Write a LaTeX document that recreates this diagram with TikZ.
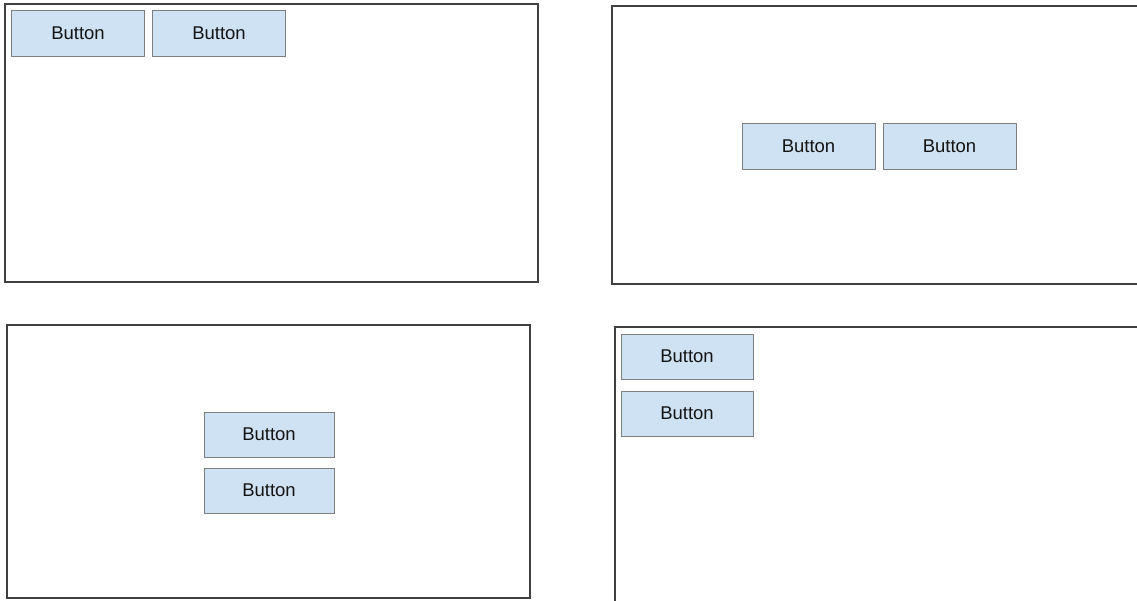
\documentclass[tikz,border=0pt]{standalone}
\usepackage{fontspec}
\setmainfont{Liberation Sans}
\definecolor{btnfill}{HTML}{CFE2F3}
\definecolor{btnline}{HTML}{7F7F7F}
\definecolor{frameline}{HTML}{404040}
\definecolor{txt}{HTML}{141414}
\tikzset{
  panel/.style={draw=frameline, line width=1.3pt, fill=white},
  btn/.style={draw=btnline, line width=0.8pt, fill=btnfill, text=txt,
    font=\fontsize{18.5}{21}\selectfont},
}
\begin{document}
\begin{tikzpicture}[x=1pt, y=-1pt]
\useasboundingbox (0,0) rectangle (1137,601);
\clip (0,0) rectangle (1137,601);
\fill[white] (0,0) rectangle (1137,601);

% frames
\draw[panel] (5,4) rectangle (538,282);
\draw[panel] (612,6) rectangle (1150,284);
\draw[panel] (7,325) rectangle (530,598);
\draw[panel] (615,327) rectangle (1150,615);

% top-left: row aligned to the start
\node[btn, minimum width=133pt, minimum height=46pt] (a1) at (78,33) {Button};
\node[btn, minimum width=133pt, minimum height=46pt] (a2) at (219,33) {Button};

% top-right: row centred
\node[btn, minimum width=133pt, minimum height=46pt] (b1) at (808.5,146) {Button};
\node[btn, minimum width=133pt, minimum height=46pt] (b2) at (949.5,146) {Button};

% bottom-left: column centred
\node[btn, minimum width=130pt, minimum height=45pt] (c1) at (269,434.5) {Button};
\node[btn, minimum width=130pt, minimum height=45pt] (c2) at (269,490.5) {Button};

% bottom-right: column aligned to the start
\node[btn, minimum width=132pt, minimum height=45pt] (d1) at (687,356.5) {Button};
\node[btn, minimum width=132pt, minimum height=45pt] (d2) at (687,413.5) {Button};
\end{tikzpicture}
\end{document}
